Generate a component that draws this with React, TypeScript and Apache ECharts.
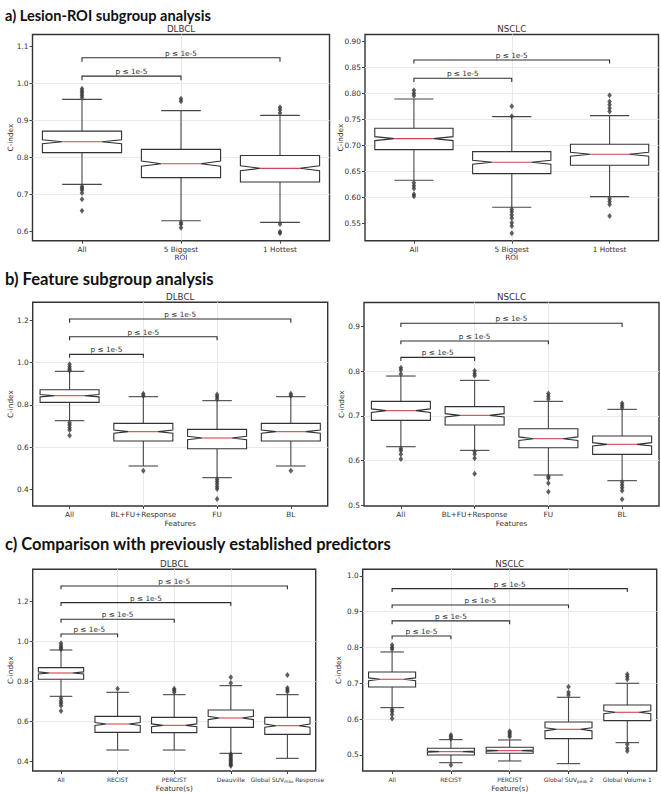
import React, { useEffect, useRef } from "react";
import * as echarts from "echarts";

// ---------- DATA ----------
const P_LABEL = "p \u2264 1e-5";

// a) Lesion-ROI subgroup analysis
const catsROI = ["All", "5 Biggest", "1 Hottest"];
// [lowWhisker, q1, median, q3, highWhisker]
const boxA_D = [
  [0.7266, 0.8125, 0.842, 0.871, 0.957],
  [0.628, 0.7447, 0.7826, 0.8215, 0.9264],
  [0.6235, 0.733, 0.77, 0.805, 0.9137],
];
const outA_D = [
  [0, 0.986], [0, 0.98], [0, 0.974], [0, 0.968], [0, 0.962],
  [0, 0.721], [0, 0.716], [0, 0.711], [0, 0.703], [0, 0.686], [0, 0.655],
  [1, 0.959], [1, 0.952], [1, 0.623], [1, 0.618], [1, 0.609],
  [2, 0.936], [2, 0.929], [2, 0.92], [2, 0.619], [2, 0.598], [2, 0.594],
];
const brA_D = [[0, 1, 1.02, 1.009], [0, 2, 1.07, 1.059]];
const ticksA_D = [0.6, 0.7, 0.8, 0.9, 1.0, 1.1];

const boxA_N = [
  [0.6327, 0.6917, 0.7128, 0.7327, 0.789],
  [0.5808, 0.6455, 0.6673, 0.6878, 0.7551],
  [0.6013, 0.6615, 0.6827, 0.7019, 0.757],
];
const outA_N = [
  [0, 0.806], [0, 0.8], [0, 0.795], [0, 0.628], [0, 0.622], [0, 0.617], [0, 0.606], [0, 0.602],
  [1, 0.775], [1, 0.756], [1, 0.577], [1, 0.572], [1, 0.566], [1, 0.56], [1, 0.551], [1, 0.545], [1, 0.531],
  [2, 0.796], [2, 0.784], [2, 0.778], [2, 0.771], [2, 0.765], [2, 0.597], [2, 0.592], [2, 0.586], [2, 0.564],
];
const brA_N = [[0, 1, 0.8288, 0.8218], [0, 2, 0.8641, 0.857]];
const ticksA_N = [0.55, 0.6, 0.65, 0.7, 0.75, 0.8, 0.85, 0.9];

// b) Feature subgroup analysis
const catsFeat = ["All", "BL+FU+Response", "FU", "BL"];
const boxB_D = [
  [0.7253, 0.8118, 0.8432, 0.8715, 0.958],
  [0.5116, 0.6295, 0.6735, 0.7128, 0.8385],
  [0.4566, 0.5933, 0.6436, 0.6845, 0.8197],
  [0.5116, 0.6295, 0.6735, 0.7128, 0.8385],
];
const outB_D = [
  [0, 0.991], [0, 0.98], [0, 0.969], [0, 0.962], [0, 0.716], [0, 0.705], [0, 0.692], [0, 0.681], [0, 0.655],
  [1, 0.852], [1, 0.843], [1, 0.489],
  [2, 0.849], [2, 0.838], [2, 0.828], [2, 0.449], [2, 0.438], [2, 0.427], [2, 0.414], [2, 0.403], [2, 0.356],
  [3, 0.852], [3, 0.843], [3, 0.489],
];
const brB_D = [[0, 1, 1.038, 1.022], [0, 2, 1.121, 1.104], [0, 3, 1.205, 1.187]];
const ticksB_D = [0.4, 0.6, 0.8, 1.0, 1.2];

const boxB_N = [
  [0.6308, 0.6899, 0.7116, 0.7325, 0.7893],
  [0.6226, 0.6794, 0.7011, 0.7206, 0.7796],
  [0.5673, 0.6286, 0.6488, 0.6712, 0.7325],
  [0.5546, 0.6136, 0.6361, 0.6548, 0.7146],
];
const outB_N = [
  [0, 0.808], [0, 0.803], [0, 0.794], [0, 0.627], [0, 0.622], [0, 0.614], [0, 0.603],
  [1, 0.801], [1, 0.795], [1, 0.79], [1, 0.62], [1, 0.614], [1, 0.605], [1, 0.57],
  [2, 0.75], [2, 0.744], [2, 0.738], [2, 0.564], [2, 0.56], [2, 0.549], [2, 0.53],
  [3, 0.728], [3, 0.723], [3, 0.718], [3, 0.551], [3, 0.545], [3, 0.539], [3, 0.532], [3, 0.513],
];
const brB_N = [[0, 1, 0.8312, 0.823], [0, 2, 0.8679, 0.8604], [0, 3, 0.9075, 0.8993]];
const ticksB_N = [0.5, 0.6, 0.7, 0.8, 0.9];

// c) Comparison with previously established predictors
const catsPredD = ["All", "RECIST", "PERCIST", "Deauville", "Global SUVmax Response"];
const boxC_D = [
  [0.725, 0.81, 0.8417, 0.8683, 0.9567],
  [0.4565, 0.545, 0.5867, 0.625, 0.745],
  [0.4565, 0.5433, 0.58, 0.62, 0.7333],
  [0.44, 0.57, 0.6167, 0.6567, 0.7783],
  [0.415, 0.535, 0.5783, 0.62, 0.7333],
];
const outC_D = [
  [0, 0.99], [0, 0.978], [0, 0.968], [0, 0.96], [0, 0.715], [0, 0.702], [0, 0.69], [0, 0.678], [0, 0.652],
  [1, 0.763],
  [2, 0.763], [2, 0.755], [2, 0.745],
  [3, 0.82], [3, 0.792], [3, 0.435], [3, 0.428], [3, 0.42], [3, 0.412], [3, 0.405], [3, 0.398], [3, 0.39], [3, 0.383], [3, 0.378],
  [4, 0.832], [4, 0.766], [4, 0.757], [4, 0.748],
];
const brC_D = [[0, 1, 1.0367, 1.02], [0, 2, 1.11, 1.0933], [0, 3, 1.1933, 1.1767], [0, 4, 1.2767, 1.26]];
const ticksC_D = [0.4, 0.6, 0.8, 1.0, 1.2];

const catsPredN = ["All", "RECIST", "PERCIST", "Global SUVpeak 2", "Global Volume 1"];
const boxC_N = [
  [0.6321, 0.6898, 0.7112, 0.7316, 0.7874],
  [0.4785, 0.5, 0.5093, 0.5186, 0.5428],
  [0.4833, 0.5047, 0.5121, 0.5214, 0.5419],
  [0.4758, 0.5456, 0.5716, 0.5921, 0.6609],
  [0.5344, 0.5958, 0.6191, 0.6395, 0.7],
];
const outC_N = [
  [0, 0.807], [0, 0.8], [0, 0.795], [0, 0.627], [0, 0.621], [0, 0.613], [0, 0.602],
  [1, 0.556], [1, 0.551], [1, 0.546], [1, 0.472],
  [2, 0.566], [2, 0.561], [2, 0.556], [2, 0.551],
  [3, 0.69], [3, 0.675], [3, 0.667],
  [4, 0.725], [4, 0.719], [4, 0.711], [4, 0.53], [4, 0.519], [4, 0.511],
];
const brC_N = [[0, 1, 0.8321, 0.8228], [0, 2, 0.874, 0.8647], [0, 3, 0.9186, 0.9093], [0, 4, 0.9642, 0.9549]];
const ticksC_N = [0.5, 0.6, 0.7, 0.8, 0.9, 1.0];

const sectionTitles = [
  "a) Lesion-ROI subgroup analysis",
  "b) Feature subgroup analysis",
  "c) Comparison with previously established predictors",
];

// ---------- STYLE / LAYOUT ----------
const FONT = "'DejaVu Sans', sans-serif";
const EDGE = "#333333";
const WHISK = "#474747";
const MED = "#d2464a";
const GRIDC = "#e9e9e9";
const TXT = "#333";

const panels = [
  { cats: catsROI, box: boxA_D, out: outA_D, br: brA_D, ticks: ticksA_D, dec: 1, step: 0.1, title: "DLBCL", xName: "ROI",
    rect: [32.5, 34.5, 297, 206.2], yr: [0.5737, 1.133], yGap: 18.5, xGap: 13, xFs: 7.3 },
  { cats: catsROI, box: boxA_N, out: outA_N, br: brA_N, ticks: ticksA_N, dec: 2, step: 0.05, title: "NSCLC", xName: "ROI",
    rect: [365, 34.5, 293.5, 206.2], yr: [0.5165, 0.913], yGap: 21, xGap: 13, xFs: 7.3 },
  { cats: catsFeat, box: boxB_D, out: outB_D, br: brB_D, ticks: ticksB_D, dec: 1, step: 0.2, title: "DLBCL", xName: "Features",
    rect: [32.7, 302.3, 295, 203.7], yr: [0.323, 1.2835], yGap: 18.5, xGap: 14.3, xFs: 7.3 },
  { cats: catsFeat, box: boxB_N, out: outB_N, br: brB_N, ticks: ticksB_N, dec: 1, step: 0.1, title: "NSCLC", xName: "Features",
    rect: [364, 302.5, 295, 203.5], yr: [0.4978, 0.9542], yGap: 19.3, xGap: 14.3, xFs: 7.3 },
  { cats: catsPredD, box: boxC_D, out: outC_D, br: brC_D, ticks: ticksC_D, dec: 1, step: 0.2, title: "DLBCL", xName: "Feature(s)",
    rect: [32.7, 569.3, 283, 201.7], yr: [0.3517, 1.36], yGap: 18.5, xGap: 14, xFs: 6 },
  { cats: catsPredN, box: boxC_N, out: outC_N, br: brC_N, ticks: ticksC_N, dec: 1, step: 0.1, title: "NSCLC", xName: "Feature(s)",
    rect: [362.7, 569.3, 294, 201.7], yr: [0.4553, 1.018], yGap: 20.4, xGap: 14, xFs: 6 },
];

const sectionY = [15.4, 278.6, 544.2];
const sectionFs = [14.6, 16.6, 16.5];

function renderBox(params: any, api: any) {
  const x = api.value(0);
  const lo = api.value(1), q1 = api.value(2), md = api.value(3), q3 = api.value(4), hi = api.value(5);
  const band = api.size([1, 0])[0];
  const bw = band * 0.8;
  const cx = api.coord([x, md])[0];
  const Y = (v: number) => api.coord([x, v])[1];
  const n = (1.57 * (q3 - q1)) / 17;
  const xl = cx - bw / 2, xr = cx + bw / 2, il = cx - bw / 4, ir = cx + bw / 4;
  const yq1 = Y(q1), yq3 = Y(q3), ym = Y(md), ynl = Y(md - n), ynh = Y(md + n), yhi = Y(hi), ylo = Y(lo);
  const ws = { stroke: WHISK, lineWidth: 1.1, fill: null };
  return {
    type: "group",
    children: [
      { type: "line", shape: { x1: cx, y1: yq3, x2: cx, y2: yhi }, style: ws },
      { type: "line", shape: { x1: cx, y1: yq1, x2: cx, y2: ylo }, style: ws },
      { type: "line", shape: { x1: cx - bw / 4, y1: yhi, x2: cx + bw / 4, y2: yhi }, style: ws },
      { type: "line", shape: { x1: cx - bw / 4, y1: ylo, x2: cx + bw / 4, y2: ylo }, style: ws },
      {
        type: "polygon",
        shape: {
          points: [
            [xl, yq1], [xr, yq1], [xr, ynl], [ir, ym], [xr, ynh], [xr, yq3],
            [xl, yq3], [xl, ynh], [il, ym], [xl, ynl],
          ],
        },
        style: { fill: "#fff", stroke: EDGE, lineWidth: 1.1 },
      },
      { type: "line", shape: { x1: il, y1: ym, x2: ir, y2: ym }, style: { stroke: MED, lineWidth: 1.1 } },
    ],
  };
}

function renderBracket(params: any, api: any) {
  const a = api.value(0), b = api.value(1), y = api.value(2), yd = api.value(3);
  const p1 = api.coord([a, y]);
  const p2 = api.coord([b, y]);
  const dy = api.coord([a, yd])[1];
  return {
    type: "group",
    children: [
      {
        type: "polyline",
        shape: { points: [[p1[0], dy], [p1[0], p1[1]], [p2[0], p1[1]], [p2[0], dy]] },
        style: { stroke: "#2e2e2e", lineWidth: 1.1, fill: null },
      },
      {
        type: "text",
        style: {
          text: P_LABEL, x: (p1[0] + p2[0]) / 2, y: p1[1] - 1,
          textAlign: "center", align: "center", textVerticalAlign: "bottom", verticalAlign: "bottom",
          fontSize: 7.3, fontFamily: FONT, fill: TXT,
        },
      },
    ],
  };
}

function fmtCat(cats: string[]) {
  return (v: number) => {
    const i = Math.round(v);
    if (Math.abs(v - i) > 1e-6 || i < 0 || i >= cats.length) return "";
    return cats[i].replace(/SUV(max|peak)/, "SUV{s|$1}");
  };
}

function buildOption() {
  const grid = panels.map((p) => ({
    left: p.rect[0], top: p.rect[1], width: p.rect[2], height: p.rect[3],
    show: true, borderColor: EDGE, borderWidth: 1.4, backgroundColor: "#fff",
    containLabel: false, outerBoundsMode: "none",
  }));
  const xAxis = panels.map((p, i) => ({
    type: "value", gridIndex: i, min: -0.5, max: p.cats.length - 0.5, minInterval: 1, maxInterval: 1,
    axisLine: { show: false, onZero: false },
    axisTick: { show: true, length: 3, lineStyle: { color: "#444" }, customValues: p.cats.map((_, k) => k) },
    axisLabel: {
      customValues: p.cats.map((_, k) => k), formatter: fmtCat(p.cats), margin: 4.5,
      fontSize: p.xFs, fontFamily: FONT, color: TXT, lineHeight: 8,
      rich: { s: { fontSize: 4.3, lineHeight: 4.5, verticalAlign: "bottom", fontFamily: FONT, color: TXT } },
    },
    splitLine: { show: true, showMinLine: false, showMaxLine: false, lineStyle: { color: GRIDC, width: 1 } },
    name: p.xName, nameLocation: "middle", nameGap: p.xGap, nameMoveOverlap: false,
    nameTextStyle: { fontSize: 7.3, fontFamily: FONT, color: TXT },
  }));
  const yAxis = panels.map((p, i) => ({
    type: "value", gridIndex: i, min: p.yr[0], max: p.yr[1], minInterval: p.step, maxInterval: p.step,
    axisLine: { show: false, onZero: false },
    axisTick: { show: true, length: 3, lineStyle: { color: "#444" }, customValues: p.ticks },
    axisLabel: {
      customValues: p.ticks, margin: 4, fontSize: 7.4, fontFamily: FONT, color: TXT,
      formatter: (v: number) => {
        const r = Math.round(v / p.step) * p.step;
        return Math.abs(r - v) < 1e-6 ? v.toFixed(p.dec) : "";
      },
    },
    splitLine: { show: true, showMinLine: false, showMaxLine: false, lineStyle: { color: GRIDC, width: 1 } },
    name: "C-index", nameLocation: "middle", nameGap: p.yGap, nameMoveOverlap: false,
    nameTextStyle: { fontSize: 7.3, fontFamily: FONT, color: TXT },
  }));
  const series: any[] = [];
  panels.forEach((p, i) => {
    series.push({
      type: "custom", xAxisIndex: i, yAxisIndex: i, renderItem: renderBox, clip: false,
      encode: { x: 0, y: [1, 2, 3, 4, 5] },
      data: p.box.map((b, k) => [k, ...b]), z: 3,
    });
    series.push({
      type: "scatter", xAxisIndex: i, yAxisIndex: i, symbol: "diamond", symbolSize: [4.6, 6],
      itemStyle: { color: "#383838" }, data: p.out, z: 4, silent: true,
    });
    series.push({
      type: "custom", xAxisIndex: i, yAxisIndex: i, renderItem: renderBracket, clip: false,
      encode: { x: [0, 1], y: [2, 3] }, data: p.br, z: 5,
    });
  });
  const graphic: any[] = [];
  sectionTitles.forEach((t, k) => {
    graphic.push({
      type: "text", x: 5, y: sectionY[k], z: 10,
      style: {
        text: t, fontSize: sectionFs[k], fontWeight: "bold", fontFamily: "Lato, 'Open Sans', sans-serif", fill: "#111",
        textAlign: "left", align: "left", textVerticalAlign: "middle", verticalAlign: "middle",
      },
    });
  });
  panels.forEach((p) => {
    graphic.push({
      type: "text", x: p.rect[0] + p.rect[2] / 2, y: p.rect[1] - 1.2, z: 10,
      style: {
        text: p.title, fontSize: 8.7, fontFamily: FONT, fill: TXT,
        textAlign: "center", align: "center", textVerticalAlign: "bottom", verticalAlign: "bottom",
      },
    });
  });
  return { animation: false, backgroundColor: "#fff", grid, xAxis, yAxis, series, graphic };
}

export default function App() {
  const ref = useRef<HTMLDivElement>(null);
  useEffect(() => {
    if (!ref.current) return;
    const chart = echarts.init(ref.current, null, { renderer: "svg" });
    chart.setOption(buildOption() as any);
    return () => chart.dispose();
  }, []);
  return (
    <div
      ref={ref}
      style={{ position: "absolute", left: 0, top: 0, width: 661, height: 793, background: "#fff" }}
    />
  );
}
